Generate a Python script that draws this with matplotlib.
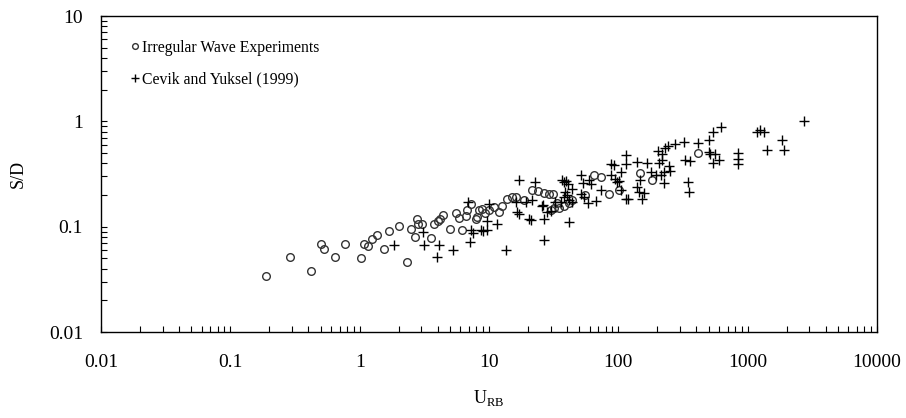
"""Log-log scatter: S/D versus U_RB, irregular wave experiments vs Cevik and Yuksel (1999)."""
import matplotlib

matplotlib.use("Agg")
import matplotlib.pyplot as plt  # noqa: E402

plt.rcParams["font.family"] = ["Liberation Serif", "DejaVu Serif"]
plt.rcParams["mathtext.fontset"] = "custom"
plt.rcParams["mathtext.rm"] = "Liberation Serif"

# Irregular wave experiments (open circles)
exp_x = [0.19, 0.29, 0.42, 0.50, 0.53, 0.64, 0.77, 1.03, 1.08, 1.15, 1.24, 1.37,
         1.54, 1.69, 2.01, 2.34, 2.48, 2.68, 2.76, 2.84, 3.05, 3.59, 3.76, 4.03,
         4.18, 4.44, 4.99, 5.53, 5.86, 6.22, 6.6, 6.81, 7.3, 7.89, 8.1, 8.37,
         8.9, 9.27, 10.0, 10.9, 11.9, 12.7, 13.7, 15.0, 16.3, 18.7, 21.6, 24.1,
         26.7, 29.1, 31.5, 33.7, 31.7, 30.0, 34.7, 38.0, 41.6, 44.1, 55.0, 64.5,
         73.0, 84.6, 101, 148, 183, 410]
exp_y = [0.034, 0.051, 0.038, 0.069, 0.061, 0.051, 0.069, 0.050, 0.069, 0.065, 0.077, 0.083,
         0.062, 0.091, 0.101, 0.046, 0.095, 0.080, 0.117, 0.105, 0.105, 0.078, 0.105, 0.113,
         0.119, 0.130, 0.096, 0.135, 0.122, 0.094, 0.125, 0.143, 0.163, 0.117, 0.123, 0.143,
         0.148, 0.135, 0.143, 0.153, 0.138, 0.156, 0.185, 0.19, 0.19, 0.18, 0.221, 0.218,
         0.209, 0.206, 0.203, 0.166, 0.149, 0.143, 0.149, 0.156, 0.166, 0.180, 0.20, 0.307,
         0.296, 0.206, 0.221, 0.32, 0.275, 0.50]

# Cevik and Yuksel (1999) (plus signs)
cy_x = [1.84, 3.11, 3.14, 3.99, 4.1, 5.3, 6.88, 7.1, 7.2, 7.5, 8.63, 9.0,
        9.6, 9.6, 10.0, 11.6, 13.6, 16.6, 17.1, 22.6, 26.4, 20.4, 26.4, 19.2,
        21.6, 26.2, 27.9, 16.1, 17.1, 21.0, 25.9, 41.6, 30.0, 32.6, 36.0, 38.0,
        40.0, 39.0, 38.0, 37.0, 39.5, 40.5, 51.4, 52.9, 59.0, 61.0, 44.0, 51.0,
        54.0, 41.6, 44.1, 57.8, 66.6, 73.0, 87.5, 92.0, 87.5, 95.0, 97.0, 101,
        114, 114, 114, 620, 535, 500, 410, 320, 272, 240, 228, 203,
        218, 500, 510, 560, 600, 535, 835, 835, 835, 330, 360, 343,
        350, 140, 167, 206, 218, 245, 253, 225, 212, 194, 178, 225,
        140, 148, 144, 157, 153, 118, 104, 104, 2730, 1190, 1240, 1330,
        1420, 1850, 1920]
cy_y = [0.067, 0.089, 0.067, 0.051, 0.067, 0.060, 0.171, 0.071, 0.092, 0.088, 0.092, 0.091,
        0.113, 0.092, 0.163, 0.105, 0.060, 0.138, 0.279, 0.265, 0.075, 0.119, 0.117, 0.171,
        0.180, 0.160, 0.138, 0.171, 0.133, 0.115, 0.156, 0.111, 0.140, 0.171, 0.171, 0.191,
        0.200, 0.215, 0.265, 0.275, 0.27, 0.255, 0.307, 0.260, 0.279, 0.256, 0.229, 0.206,
        0.191, 0.178, 0.171, 0.166, 0.175, 0.221, 0.396, 0.383, 0.307, 0.285, 0.265, 0.27,
        0.185, 0.476, 0.396, 0.88, 0.79, 0.66, 0.62, 0.64, 0.605, 0.58, 0.56, 0.52,
        0.49, 0.51, 0.49, 0.49, 0.43, 0.40, 0.50, 0.44, 0.39, 0.43, 0.42, 0.265,
        0.213, 0.41, 0.40, 0.40, 0.43, 0.38, 0.34, 0.33, 0.31, 0.31, 0.33, 0.26,
        0.24, 0.275, 0.213, 0.209, 0.185, 0.185, 0.221, 0.33, 1.0, 0.79, 0.82, 0.80,
        0.54, 0.66, 0.53]

x_ticks = [0.01, 0.1, 1, 10, 100, 1000, 10000]
x_labels = ["0.01", "0.1", "1", "10", "100", "1000", "10000"]
y_ticks = [0.01, 0.1, 1, 10]
y_labels = ["0.01", "0.1", "1", "10"]

fig = plt.figure(figsize=(9.06, 4.18), dpi=100)
ax = fig.add_axes([0.1115, 0.2057, 0.8565, 0.756])

ax.plot(exp_x, exp_y, ls="none", marker="o", ms=5.5, mfc="none", mec="#333333",
        mew=1.0, label="Irregular Wave Experiments")
ax.plot(cy_x, cy_y, ls="none", marker="+", ms=7.5, mec="black", mew=1.0,
        label="Cevik and Yuksel (1999)")

ax.set_xscale("log")
ax.set_yscale("log")
ax.set_xlim(0.01, 10000)
ax.set_ylim(0.01, 10)
ax.set_xticks(x_ticks, x_labels)
ax.set_yticks(y_ticks, y_labels)

# ticks drawn inward, only on the bottom and left axes
ax.tick_params(which="both", direction="in", top=False, right=False,
               labelsize=14, length=4, width=0.8)
ax.tick_params(axis="x", which="both", pad=16)
ax.tick_params(axis="y", which="both", pad=13)
for s in ax.spines.values():
    s.set_linewidth(1.0)

ax.set_xlabel("U$_{\\mathrm{RB}}$", fontsize=13, labelpad=12)
ax.set_ylabel("S/D", fontsize=13, labelpad=16)

ax.legend(loc="upper left", bbox_to_anchor=(0.029, 0.945), frameon=False,
          fontsize=11.3, handlelength=0.6, handletextpad=0.2, labelspacing=1.0,
          markerscale=0.75, borderaxespad=0)

fig.savefig("out.png", dpi=100)
plt.close(fig)
